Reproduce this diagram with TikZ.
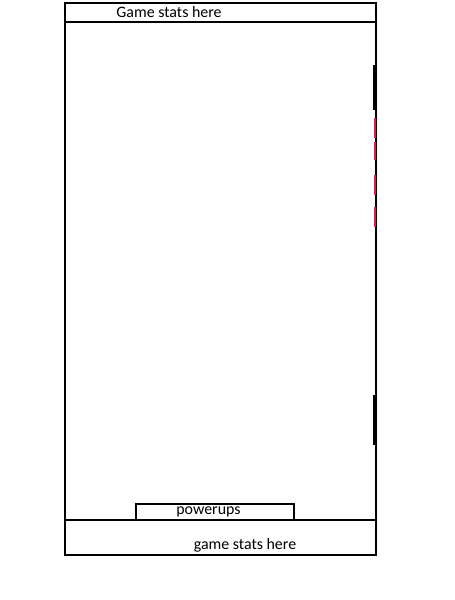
\documentclass[tikz,border=0pt]{standalone}
\usepackage{fontspec}
\newfontfamily\statfont{Carlito}
\usetikzlibrary{positioning}
\definecolor{markred}{RGB}{222,28,72}

\begin{document}
\begin{tikzpicture}[
    x=1pt, y=-1pt,
    frame/.style  = {draw=black, line width=2pt},
    slot/.style   = {draw=black, line width=1.8pt},
    label/.style  = {font=\statfont\fontsize{15.9}{18}\selectfont, inner sep=0pt},
    black mark/.style = {draw=black, line width=3pt},
    red mark/.style   = {draw=markred, line width=2.6pt}
]
\useasboundingbox (0,0) rectangle (455,600);

% outer screen
\draw[frame] (65,3) rectangle (376,555);

% top and bottom bands
\coordinate (tl) at (65,22);
\coordinate (tr) at (376,22);
\coordinate (bl) at (65,520);
\coordinate (br) at (376,520);
\draw[frame] (tl) -- (tr);
\draw[frame] (bl) -- (br);

% powerups slot
\draw[slot] (136,520) rectangle (294,504);
\node[label] (pw) at (208.5,512.3) {powerups};

% stats labels
\node[label] (topstats) at (169,12) {Game stats here};
\node[label] (botstats) at (245,545) {game stats here};

% marks on the right edge
\draw[black mark] (374.5,65) -- (374.5,110);
\draw[black mark] (374.5,395) -- (374.5,445);
\foreach \ya/\yb in {118/138, 142/160, 175/195, 207/227}
    \draw[red mark] (375,\ya) -- (375,\yb);

\end{tikzpicture}
\end{document}
